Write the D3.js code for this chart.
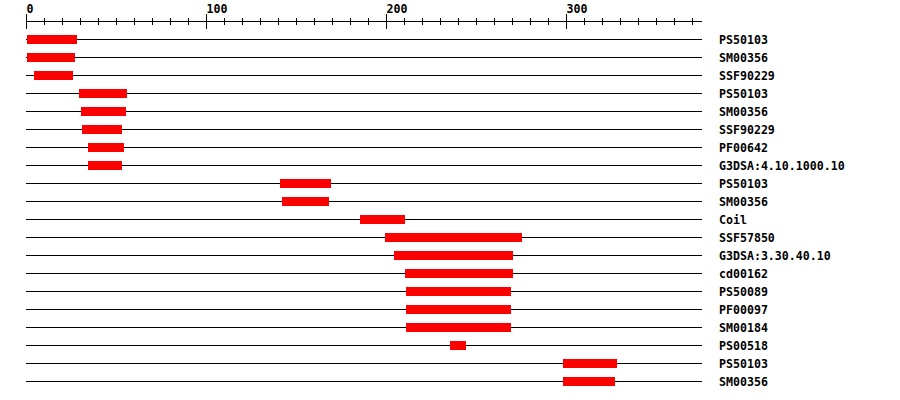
<!DOCTYPE html>
<html>
<head>
<meta charset="utf-8">
<script src="https://cdn.jsdelivr.net/npm/d3@7"></script>
<style>
  body { margin: 0; background: #fff; }
  text { font-family: "DejaVu Sans Mono", monospace; font-weight: bold; font-size: 11.6px; fill: #000; }
</style>
</head>
<body>
<div id="chart"></div>
<script>
// domain hits, one row each
const labels = ['PS50103', 'SM00356', 'SSF90229', 'PS50103', 'SM00356', 'SSF90229', 'PF00642',
  'G3DSA:4.10.1000.10', 'PS50103', 'SM00356', 'Coil', 'SSF57850', 'G3DSA:3.30.40.10', 'cd00162',
  'PS50089', 'PF00097', 'SM00184', 'PS00518', 'PS50103', 'SM00356'];
const starts = [0, 0, 4, 29, 30, 31, 34, 34, 141, 142, 185, 199, 204, 210, 211, 211, 211, 235, 298, 298];
const ends = [28, 27, 26, 56, 55, 53, 54, 53, 169, 168, 210, 275, 270, 270, 269, 269, 269, 244, 328, 327];
const tickValues = d3.range(0, 371, 10);
const majorTicks = [0, 100, 200, 300];

const width = 900;
const height = 400;

const svg = d3.select('#chart')
  .append('svg')
  .attr('width', width)
  .attr('height', height);

const x = d3.scaleLinear()
  .domain([0, 375])
  .range([26.5, 701.5]);

const y = d3.scaleBand()
  .domain(d3.range(labels.length))
  .range([30, 30 + labels.length * 18]);

const axisY = 21.5;

// ruler
svg.append('line')
  .attr('x1', x(0) - 0.5)
  .attr('x2', x(375))
  .attr('y1', axisY)
  .attr('y2', axisY)
  .attr('stroke', '#000')
  .attr('shape-rendering', 'crispEdges');

svg.selectAll('.tick')
  .data(tickValues)
  .enter().append('line')
  .attr('class', 'tick')
  .attr('x1', (d) => Math.floor(x(d)) + 0.5)
  .attr('x2', (d) => Math.floor(x(d)) + 0.5)
  .attr('y1', (d) => (majorTicks.includes(d) ? 14 : 18))
  .attr('y2', (d) => (majorTicks.includes(d) ? 29 : 25))
  .attr('stroke', '#000')
  .attr('shape-rendering', 'crispEdges');

svg.selectAll('.tick-label')
  .data(majorTicks)
  .enter().append('text')
  .attr('class', 'tick-label')
  .attr('x', (d) => Math.floor(x(d)) + 0.5)
  .attr('y', 12.5)
  .text((d) => d);

// row lines
const rows = svg.selectAll('.row')
  .data(labels)
  .enter().append('g')
  .attr('class', 'row')
  .attr('transform', (d, i) => `translate(0,${y(i) + 9})`);

rows.append('line')
  .attr('x1', x(0) - 0.5)
  .attr('x2', x(375))
  .attr('y1', 0.5)
  .attr('y2', 0.5)
  .attr('stroke', '#000')
  .attr('shape-rendering', 'crispEdges');

rows.append('rect')
  .attr('x', (d, i) => x(starts[i]))
  .attr('width', (d, i) => x(ends[i]) - x(starts[i]))
  .attr('y', -4)
  .attr('height', 9)
  .attr('fill', '#ff0000')
  .attr('shape-rendering', 'crispEdges');

rows.append('text')
  .attr('x', 719)
  .attr('y', 4.5)
  .text((d) => d);
</script>
</body>
</html>
